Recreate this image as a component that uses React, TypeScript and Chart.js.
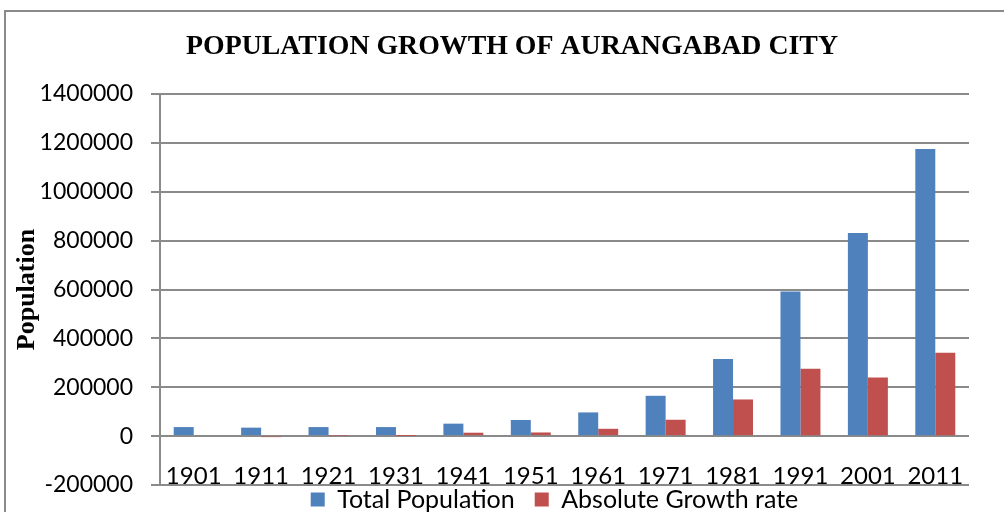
import React, { useEffect, useRef } from "react";
import { Chart, registerables } from "chart.js";

Chart.register(...registerables);

const chartTitle = "POPULATION GROWTH OF AURANGABAD CITY";
const yAxisTitle = "Population";
const years = ["1901", "1911", "1921", "1931", "1941", "1951", "1961", "1971", "1981", "1991", "2001", "2011"];
const totalPopulation = [37000, 34700, 37000, 37000, 51000, 66000, 97000, 165000, 316000, 592000, 831000, 1175000];
const absoluteGrowth = [0, -2000, 2000, 500, 14000, 15000, 30000, 67000, 150000, 276000, 240000, 341000];
const seriesNames = ["Total Population", "Absolute Growth rate"];
const yMin = -200000;
const yMax = 1400000;
const yStep = 200000;

const GRID = "#8a8a8a";
const LABEL_FONT = "Lato";

export default function App() {
  const ref = useRef<HTMLCanvasElement | null>(null);

  useEffect(() => {
    if (!ref.current) return;
    const framePlugin = {
      id: "frameAndTitle",
      beforeDraw(chart: any) {
        const ctx = chart.ctx;
        ctx.save();
        ctx.fillStyle = "#ffffff";
        ctx.fillRect(0, 0, chart.width, chart.height);
        ctx.strokeStyle = "#8a8a8a";
        ctx.lineWidth = 2;
        ctx.strokeRect(5, 11, 1200, 800);
        ctx.restore();
      },
      afterDraw(chart: any) {
        const ctx = chart.ctx;
        ctx.save();
        ctx.fillStyle = "#000";
        ctx.font = "bold 28px 'Liberation Serif'";
        ctx.textAlign = "center";
        ctx.textBaseline = "middle";
        ctx.fillText(chartTitle, 512, 47, 652);
        // category labels placed just above the lowest gridline, through the x scale
        const xs = chart.scales.x;
        const ys = chart.scales.y;
        const baseY = ys.getPixelForValue(yMin) - 1;
        ctx.font = `24px ${LABEL_FONT}`;
        ctx.textBaseline = "alphabetic";
        years.forEach((lbl, i) => {
          ctx.fillText(lbl, xs.getPixelForValue(i), baseY);
        });
        ctx.restore();
      },
      afterLayout(chart: any) {
        const lg = chart.legend;
        if (lg) {
          const h = lg.bottom - lg.top;
          lg.top = 467;
          lg.bottom = 467 + h;
          lg.left += 70;
          lg.right += 70;
        }
      },
    };

    const chart = new Chart(ref.current, {
      type: "bar",
      data: {
        labels: years,
        datasets: [
          {
            label: seriesNames[0],
            data: totalPopulation,
            backgroundColor: "#4F81BD",
            borderWidth: 0,
          },
          {
            label: seriesNames[1],
            data: absoluteGrowth,
            backgroundColor: "#C0504D",
            borderWidth: 0,
          },
        ],
      },
      plugins: [framePlugin],
      options: {
        animation: false,
        responsive: false,
        layout: { padding: { top: 94, left: 0, right: 35, bottom: 0 } },
        datasets: {
          bar: { barPercentage: 1, categoryPercentage: 0.593 },
        },
        plugins: {
          title: { display: false },
          tooltip: { enabled: false },
          legend: {
            position: "bottom",
            labels: {
              boxWidth: 14,
              boxHeight: 14,
              padding: 20,
              color: "#000",
              font: { family: LABEL_FONT, size: 25 },
            },
          },
        },
        scales: {
          x: {
            grid: { display: false, drawTicks: false },
            border: { display: false },
            afterFit: (s: any) => {
              s.height = 4;
            },
            ticks: { display: false },
          },
          y: {
            min: yMin,
            max: yMax,
            afterFit: (s: any) => {
              s.width = 160;
            },
            grid: { color: GRID, lineWidth: 2, tickLength: 9 },
            border: { color: GRID, width: 2 },
            title: {
              display: true,
              text: yAxisTitle,
              color: "#000",
              font: { family: "Liberation Serif", size: 26, weight: "bold" },
              padding: { top: 12, bottom: 0 },
            },
            ticks: {
              stepSize: yStep,
              color: "#000",
              padding: 18,
              font: { family: LABEL_FONT, size: 23 },
              callback: (v: any) => String(v),
            },
          },
        },
      },
    });
    return () => chart.destroy();
  }, []);

  return (
    <div style={{ position: "fixed", left: 0, top: 0, width: 1004, height: 512, overflow: "hidden", background: "#fff" }}>
      <canvas ref={ref} width={1004} height={544} />
    </div>
  );
}
